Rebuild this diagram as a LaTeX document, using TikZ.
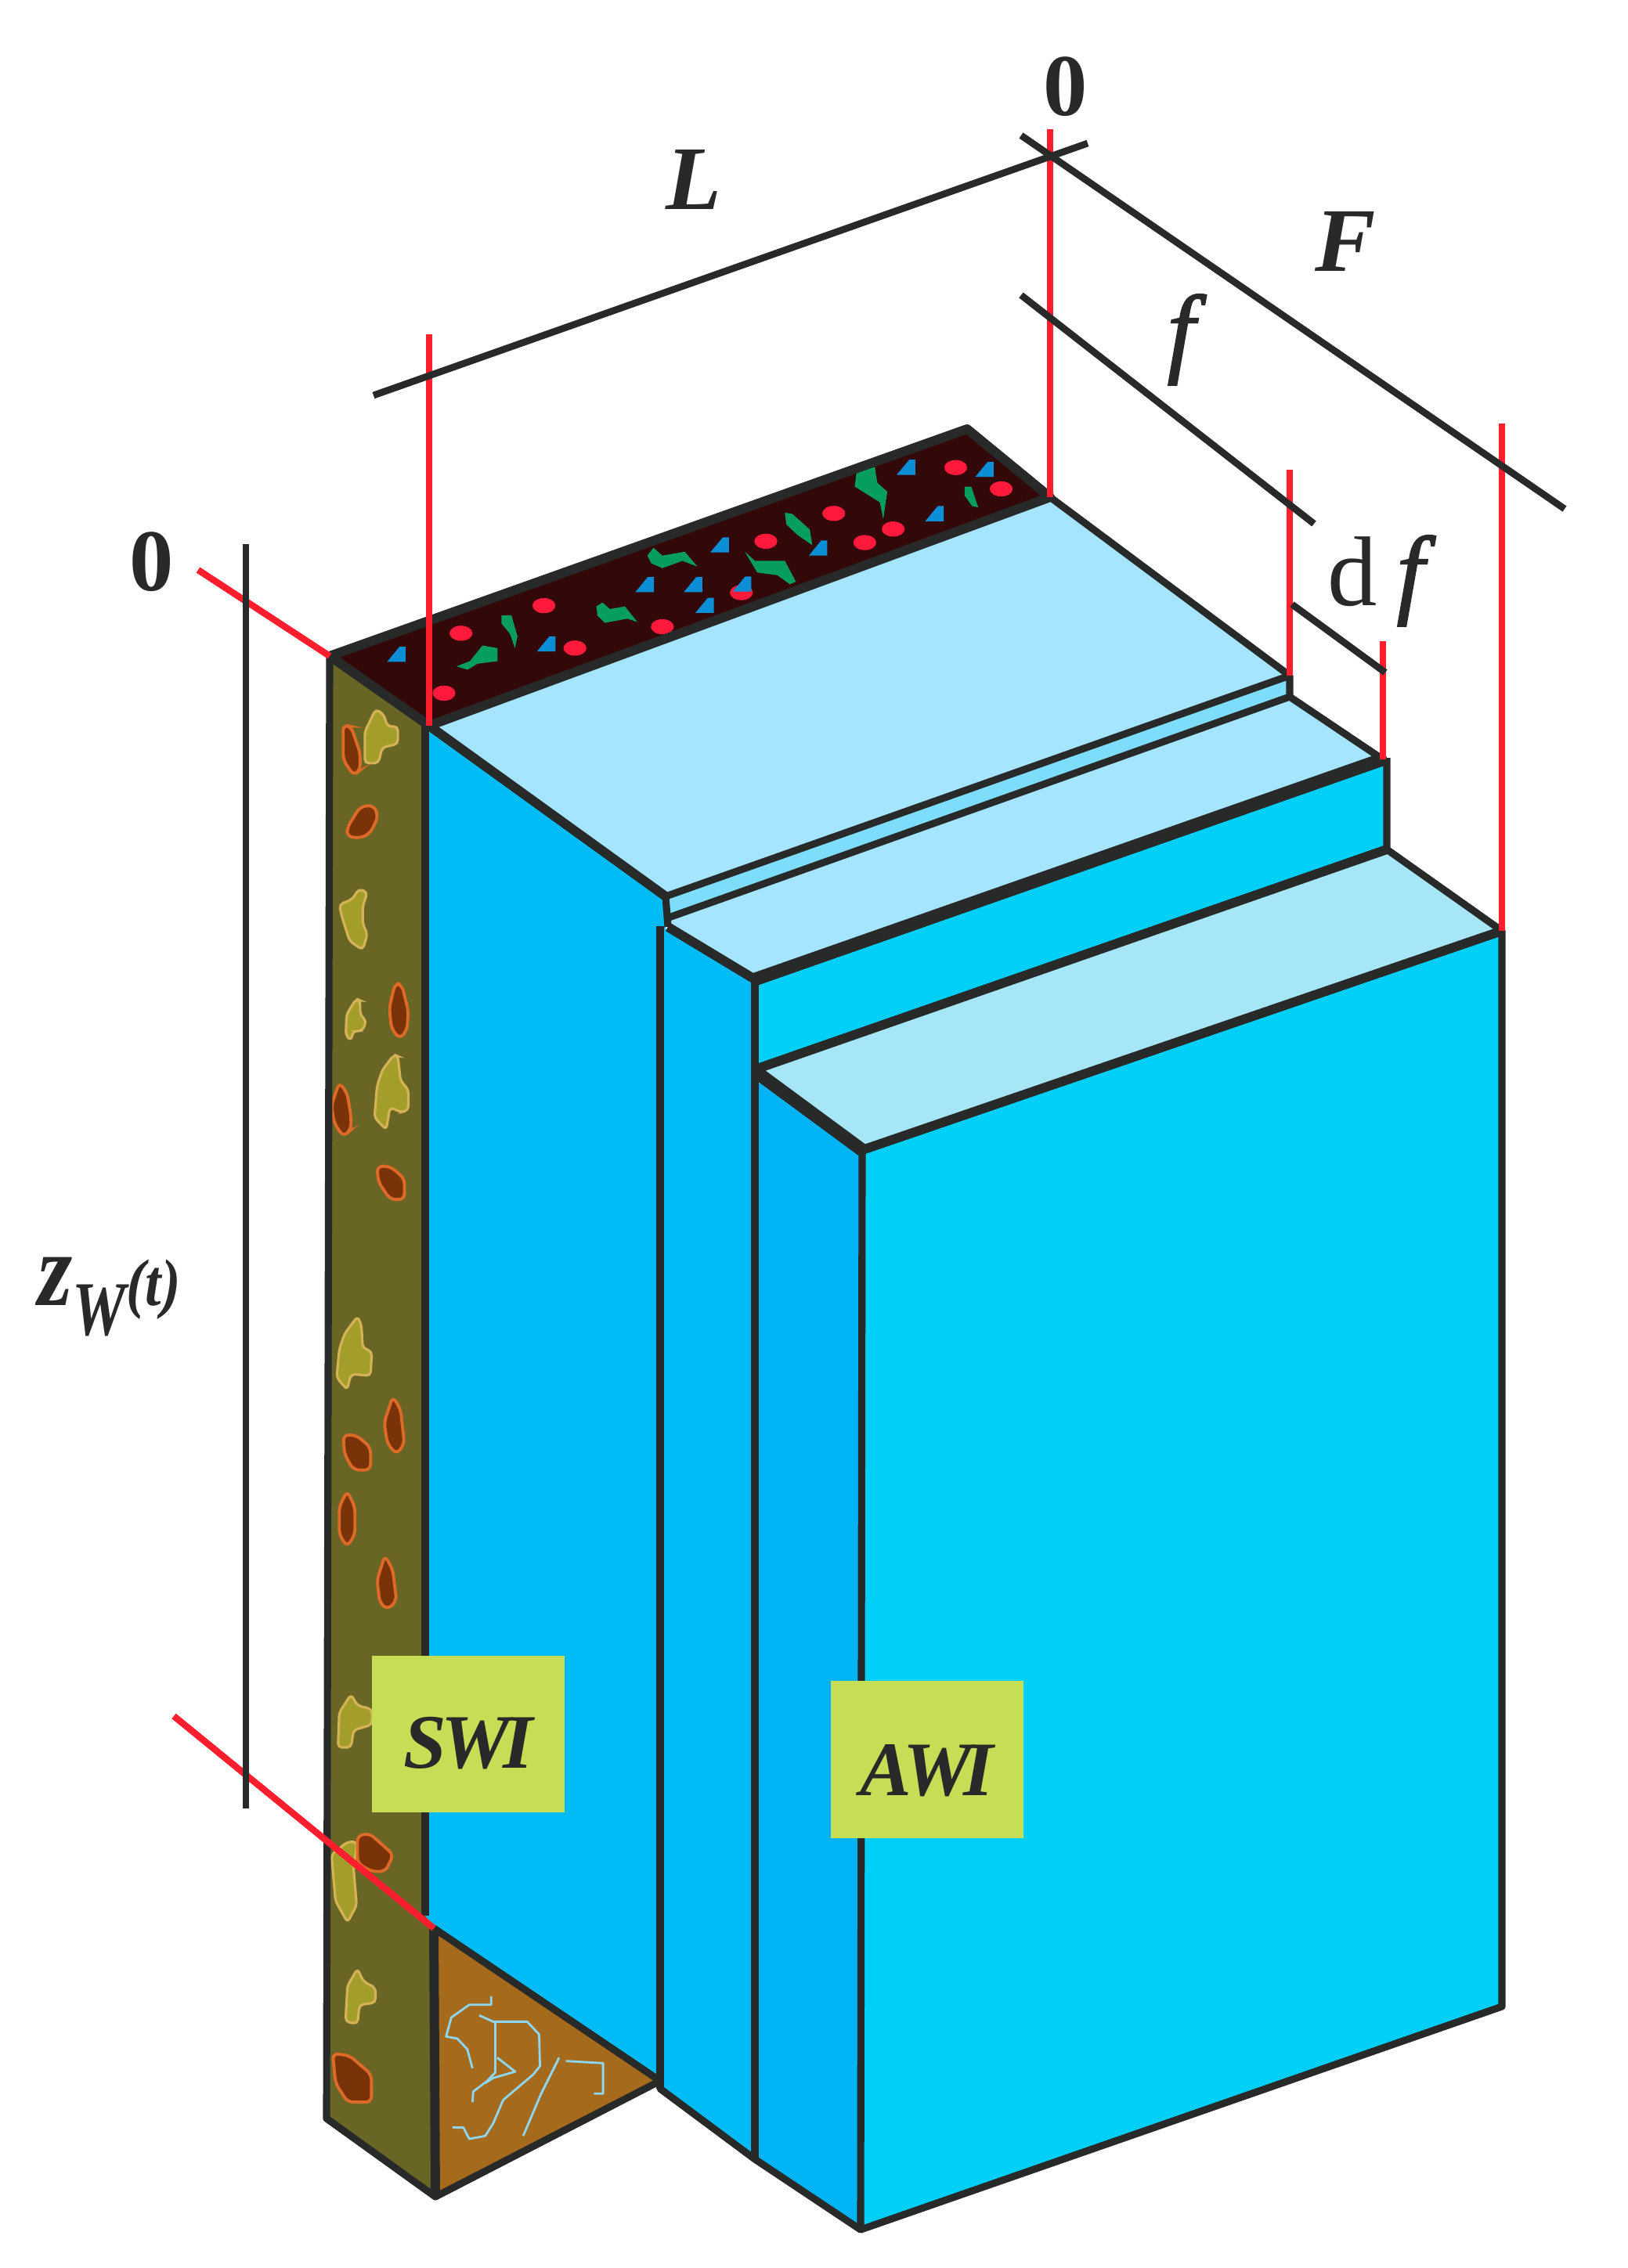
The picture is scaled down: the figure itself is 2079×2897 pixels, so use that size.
\documentclass[tikz,border=0pt]{standalone}
\usepackage{fontspec}
\setmainfont{Liberation Serif}
\newfontface\semiitalic[FakeBold=1.6]{Liberation Serif Italic}
\definecolor{inkline}{HTML}{272A28}
\definecolor{redline}{HTML}{FF1E2D}
\definecolor{sidecyan}{HTML}{00BCF6}
\definecolor{stepcyan}{HTML}{00B3F5}
\definecolor{frontcyan}{HTML}{00CFF8}
\definecolor{platelight}{HTML}{A6E5FF}
\definecolor{plategrey}{HTML}{A6E6F6}
\definecolor{gapblue}{HTML}{7DDDFB}
\definecolor{soilolive}{HTML}{686525}
\definecolor{soildark}{HTML}{330808}
\definecolor{rootbrown}{HTML}{A66A1C}
\definecolor{rootblue}{HTML}{8FD6F0}
\definecolor{tagyellow}{HTML}{C6DE55}
\definecolor{stonefill}{HTML}{A39E2A}
\definecolor{stoneedge}{HTML}{D4B356}
\definecolor{clodfill}{HTML}{7A3208}
\definecolor{clodedge}{HTML}{DE6A28}
\definecolor{dotred}{HTML}{FF1A3C}
\definecolor{chipblue}{HTML}{0A8FD6}
\definecolor{leafgreen}{HTML}{069E5E}
\tikzset{
  edge/.style={draw=inkline,line width=2.6pt,line join=round},
  edgemid/.style={draw=inkline,line width=3.4pt,line join=round},
  edgeheavy/.style={draw=inkline,line width=4.8pt,line join=round},
  dimline/.style={draw=inkline,line width=2.5pt},
  refline/.style={draw=redline,line width=2.4pt},
  stone/.style={fill=stonefill,draw=stoneedge,line width=.9pt,rounded corners=1.5pt},
  clod/.style={fill=clodfill,draw=clodedge,line width=1.1pt,rounded corners=2pt},
  root/.style={draw=rootblue,line width=.8pt,line join=round},
  tagbox/.style={fill=tagyellow,inner sep=0pt,minimum width=2.46cm,minimum height=2cm,text=inkline,font=\fontsize{28}{28}\selectfont\bfseries\itshape,text depth=0pt},
  dimtext/.style={inner sep=0pt,anchor=base west,text=inkline,font=\fontsize{33}{33}\selectfont\bfseries\itshape},
  numtext/.style={inner sep=0pt,anchor=base west,text=inkline,font=\fontsize{32}{32}\selectfont\bfseries},
  stripcrop/.style={shift={(380,520)},x=0.00638cm,y=-0.00333cm},
  upcrop/.style={shift={(380,850)},x=0.00333cm,y=-0.00446cm},
  midcrop/.style={shift={(380,1550)},x=0.00333cm,y=-0.00446cm},
  lowcrop/.style={shift={(380,2050)},x=0.0051cm,y=-0.0054cm}
}
\begin{document}
\begin{tikzpicture}[x=0.01cm,y=-0.01cm]
  \useasboundingbox (0,0) rectangle (2079,2897);
  % Eckpunkte
  \foreach \name/\px/\py in {stripL/421/838,stripT/1235/548,stripR/1341/635,stripB/548/927,
      soilT/543/922,soilA/543/2447,soilB/554/2463,soilC/556/2806,soilD/417/2706,
      sideA/850/1145,sideB/843/2658,gapA/1647/863,gapB/1647/890,gapC/854/1172,gapD/853/1184,
      colA/843/1183,colB/964/1251,colC/964/2758,colD/843/2668,
      stepA/1766/970,stepB/1771/968,stepC/1771/1085,stepD/967/1365,
      frontA/964/1368,frontB/1101/1469,frontC/1918/1189,frontD/1918/2563,frontE/1099/2848}
    \coordinate (\name) at (\px,\py);
  % Enden der Masslinien
  \foreach \name/\px/\py in {redL/548/427,redR/1341/165,redG/1647/600,redH/1766/819,redF/1918/541,
      redZ/253/728,redW/222/2192,
      lenA/477/505,lenB/1389/183,wideA/1304/173,wideB/1998/650,partA/1304/377,partB/1678/669,
      thinA/1650/772,thinB/1769/859,depthA/314/695,depthB/314/2310}
    \coordinate (\name) at (\px,\py);
  % Flaechen
  \fill[sidecyan] (stripB) -- (sideA) -- (sideB) -- (soilB) -- (soilA) -- (soilT) -- cycle;
  \fill[sidecyan] (colA) -- (colB) -- (colC) -- (colD) -- cycle;
  \fill[stepcyan] (frontA) -- (frontB) -- (frontE) -- (colC) -- cycle;
  \fill[frontcyan] (frontB) -- (frontC) -- (frontD) -- (frontE) -- cycle;
  \fill[frontcyan] (colB) -- (stepB) -- (stepC) -- (stepD) -- cycle;
  \fill[platelight] (stripB) -- (stripR) -- (gapA) -- (sideA) -- cycle;
  \fill[gapblue] (sideA) -- (gapA) -- (gapB) -- (gapC) -- cycle;
  \fill[platelight] (gapC) -- (gapB) -- (stepA) -- (colB) -- (gapD) -- cycle;
  \fill[plategrey] (stepD) -- (stepC) -- (frontC) -- (frontB) -- cycle;
  \fill[rootbrown] (soilB) -- (sideB) -- (soilC) -- cycle;
  \fill[soilolive] (stripL) -- (soilT) -- (soilA) -- (soilB) -- (soilC) -- (soilD) -- cycle;
  \fill[soildark] (stripL) -- (stripT) -- (stripR) -- (stripB) -- cycle;
  % Wurzeln
  \begin{scope}[lowcrop]
    \draw[root] (485,925) -- (485,945) -- (430,945) -- (385,975) -- (372,1020) -- (400,1025) -- (425,1050) -- (438,1095);
    \draw[root] (455,970) -- (490,985) -- (575,985) -- (605,1015) -- (607,1090) -- (590,1110) -- (515,1170) -- (490,1225) -- (470,1255) -- (430,1262) -- (415,1235) -- (388,1235);
    \draw[root] (495,985) -- (495,1105) -- (475,1125) -- (440,1150) -- (438,1175);
    \draw[root] (500,1070) -- (545,1103) -- (490,1118) -- (470,1130);
    \draw[root] (655,1070) -- (610,1155) -- (565,1255);
    \draw[root] (672,1078) -- (765,1083) -- (765,1155) -- (742,1155);
  \end{scope}
  % Punkte im Streifen
  \begin{scope}[stripcrop]
    \foreach \px/\py in {293/1098,327/868,555/925,493/762,730/843,937/515,1073/408,1135/520,1192/468,1317/232,1408/314,888/712}
      \fill[dotred] (\px,\py) ellipse [x radius=23,y radius=29];
    \foreach \px/\py in {198/950,498/910,695/682,792/682,815/762,890/680,845/530,1042/542,1275/410,1218/232,1375/240}
      \fill[chipblue] (\px,\py) +(-19,28) -- +(6,-30) -- +(18,-30) -- +(18,28) -- cycle;
    \foreach \leaf in {{(345,975)--(370,915)--(400,925)--(400,975)--(360,985)--(340,1008)--(318,995)},
        {(408,800)--(428,800)--(440,880)--(435,925)--(425,870)--(408,830)},
        {(598,765)--(610,750)--(625,775)--(655,765)--(680,825)--(660,812)--(615,828)--(600,800)},
        {(700,570)--(712,540)--(730,570)--(775,555)--(800,612)--(770,590)--(730,618)--(708,600)},
        {(895,555)--(915,590)--(975,590)--(997,670)--(985,680)--(960,645)--(920,635)},
        {(975,405)--(990,410)--(1025,470)--(1030,530)--(1000,490)--(978,450)},
        {(1120,228)--(1155,228)--(1160,290)--(1180,325)--(1172,430)--(1165,365)--(1115,305)},
        {(1335,305)--(1348,305)--(1362,385)--(1350,380)--(1335,340)}}
      \fill[leafgreen] \leaf -- cycle;
  \end{scope}
  % Steine und Kluten
  \begin{scope}[upcrop]
    \foreach \spot in {{(300,125)--(330,140)--(345,175)--(385,175)--(385,225)--(325,235)--(310,280)--(258,280)--(258,190)},
        {(235,640)--(268,650)--(250,690)--(250,740)--(268,770)--(250,815)--(200,790)--(170,720)--(160,685)--(210,670)},
        {(225,955)--(240,960)--(240,1000)--(265,1020)--(245,1050)--(215,1045)--(205,1075)--(185,1060)--(188,1000)},
        {(370,1115)--(385,1120)--(395,1190)--(425,1215)--(425,1275)--(395,1280)--(355,1265)--(340,1330)--(295,1295)--(305,1205)--(325,1160)}}
      \draw[stone] \spot -- cycle;
    \foreach \spot in {{(175,170)--(205,175)--(240,250)--(240,300)--(215,315)--(175,270)},
        {(190,490)--(190,465)--(240,405)--(290,400)--(310,430)--(280,480)--(240,495)},
        {(375,910)--(400,915)--(425,990)--(420,1045)--(392,1070)--(360,1040)--(352,980)},
        {(160,1195)--(190,1225)--(205,1290)--(205,1330)--(175,1350)--(140,1310)--(130,1260)},
        {(305,1435)--(355,1435)--(410,1470)--(410,1530)--(355,1530)--(310,1480)}}
      \draw[clod] \spot -- cycle;
  \end{scope}
  \begin{scope}[midcrop]
    \foreach \spot in {{(230,295)--(245,320)--(250,385)--(285,395)--(280,465)--(205,460)--(190,505)--(150,470)--(160,390)--(180,345)},
        {(205,1378)--(230,1410)--(285,1420)--(285,1465)--(215,1480)--(205,1530)--(155,1530)--(160,1430)}}
      \draw[stone] \spot -- cycle;
    \foreach \spot in {{(365,525)--(395,560)--(410,660)--(380,690)--(345,660)--(332,600)},
        {(175,635)--(225,635)--(280,670)--(280,735)--(215,735)--(180,690)},
        {(190,795)--(220,840)--(220,920)--(190,955)--(160,920)--(160,840)},
        {(335,980)--(365,1020)--(380,1110)--(345,1135)--(315,1115)--(305,1050)}}
      \draw[clod] \spot -- cycle;
  \end{scope}
  \begin{scope}[lowcrop]
    \foreach \spot in {{(125,560)--(150,560)--(140,620)--(148,710)--(125,750)--(95,700)--(85,590)},
        {(150,860)--(165,890)--(195,905)--(195,940)--(155,945)--(150,990)--(120,985)--(125,900)}}
      \draw[stone] \spot -- cycle;
    \foreach \spot in {{(150,545)--(180,540)--(240,590)--(220,630)--(185,630)--(150,610)},
        {(88,1060)--(130,1065)--(185,1110)--(185,1175)--(125,1175)--(95,1130)}}
      \draw[clod] \spot -- cycle;
  \end{scope}
  % Kanten
  \draw[edge] (stripL) -- (soilD) -- (soilC) -- (soilB);
  \draw[edge] (soilT) -- (soilA);
  \draw[edgemid] (stripL) -- (stripT) -- (stripR) -- (stripB) -- (stripL);
  \draw[edgemid] (stripB) -- (sideA);
  \draw[edge] (stripR) -- (gapA) -- (gapB) -- (stepA);
  \draw[edge] (sideA) -- (gapA);
  \draw[edge] (gapC) -- (gapB);
  \draw[edge] (sideA) -- (gapD);
  \draw[edgemid] (gapD) -- (colB);
  \draw[edge] (stepB) -- (stepC) -- (frontC) -- (frontD) -- (frontE) -- (colC) -- (colD) -- (sideB) -- (soilC);
  \draw[edgeheavy] (colB) -- (stepB);
  \draw[edgemid] (stepD) -- (stepC);
  \draw[edgeheavy] (frontA) -- (frontB);
  \draw[edgemid] (frontB) -- (frontC);
  \draw[edge] (colB) -- (colC);
  \draw[edge] (colA) -- (colD);
  \draw[edge] (frontB) -- (frontE);
  \draw[edgemid] (soilB) -- (soilC);
  \draw[edge] (soilB) -- (sideB);
  % Rote Linien
  \draw[refline] (redL) -- (stripB);
  \draw[refline] (redR) -- (stripR);
  \draw[refline] (redG) -- (gapA);
  \draw[refline] (redH) -- (stepA);
  \draw[refline] (redF) -- (frontC);
  \draw[refline] (redZ) -- (stripL);
  \draw[refline] (redW) -- (soilB);
  % Masslinien
  \draw[dimline] (lenA) -- (lenB);
  \draw[dimline] (wideA) -- (wideB);
  \draw[dimline] (partA) -- (partB);
  \draw[dimline] (thinA) -- (thinB);
  \draw[dimline] (depthA) -- (depthB);
  % Beschriftung
  \node[numtext] (zeroTop) at (1332,148) {0};
  \node[numtext] (zeroLeft) at (165,754) {0};
  \node[dimtext] (lenText) at (850,268) {L};
  \node[dimtext] (wideText) at (1679,347) {F};
  \node[dimtext,font=\fontsize{36}{36}\selectfont\semiitalic] (partText) at (1490,465) {f};
  \node[dimtext,font=\fontsize{36}{36}\selectfont] (thinText) at (1695,773) {d\hspace{7pt}{\semiitalic f}};
  \node[dimtext,font=\fontsize{38}{38}\selectfont\bfseries\itshape] (zetaText) at (48,1667) {\scalebox{.85}[1]{z}\raisebox{-10.8pt}{\fontsize{28}{28}\selectfont\scalebox{.78}[1]{W}}\scalebox{.87}[1]{\fontsize{24}{24}\selectfont (t)}};
  \node[tagbox,text height=24.6pt] (swiTag) at (598,2215) {S\kern-2pt W\kern-2.5pt I\hspace{1.5pt}};
  \node[tagbox,text height=26.4pt] (awiTag) at (1184,2247.5) {A\kern-3pt W\kern-3pt I\hspace{16pt}};
\end{tikzpicture}
\end{document}
